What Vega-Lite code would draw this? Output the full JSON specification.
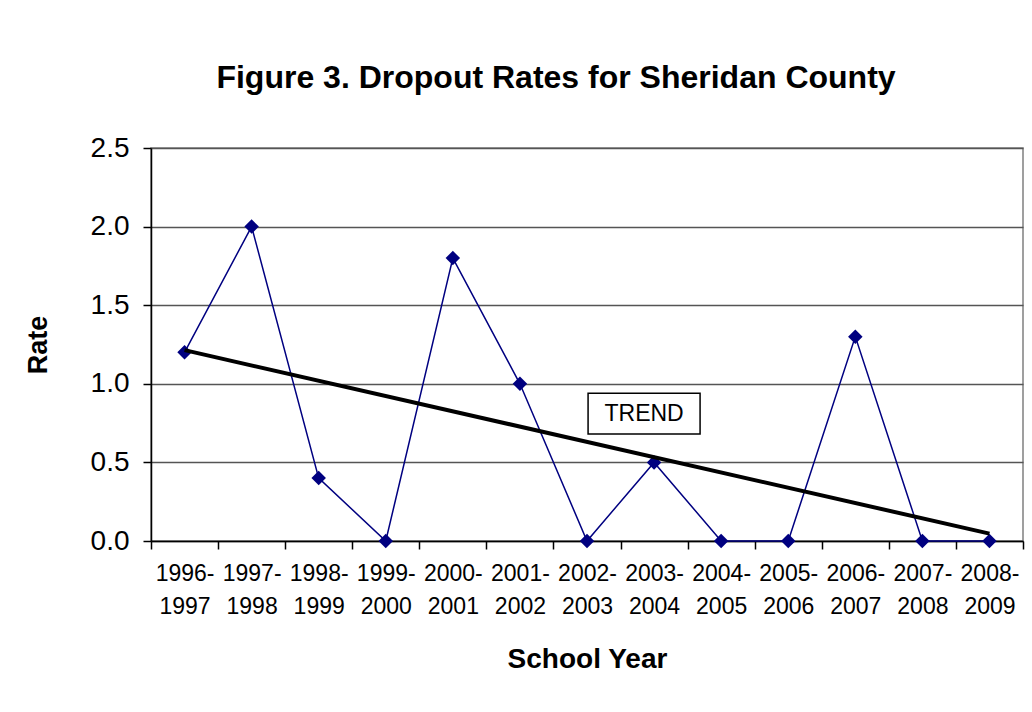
{
  "$schema": "https://vega.github.io/schema/vega-lite/v6.json",
  "autosize": "none",
  "width": 872,
  "height": 393,
  "padding": {"left": 151, "top": 148, "right": 9, "bottom": 171},
  "background": "white",
  "config": {
    "font": "Liberation Sans",
    "view": {"stroke": "#808080", "strokeWidth": 1.5}
  },
  "title": {
    "text": "Figure 3. Dropout Rates for Sheridan County",
    "font": "Liberation Sans",
    "fontSize": 32,
    "fontWeight": "bold",
    "color": "black",
    "anchor": "middle",
    "dx": -31,
    "offset": 39
  },
  "datasets": {
    "rates": [
      {"year": "1996-1997", "rate": 1.2},
      {"year": "1997-1998", "rate": 2.0},
      {"year": "1998-1999", "rate": 0.4},
      {"year": "1999-2000", "rate": 0.0},
      {"year": "2000-2001", "rate": 1.8},
      {"year": "2001-2002", "rate": 1.0},
      {"year": "2002-2003", "rate": 0.0},
      {"year": "2003-2004", "rate": 0.5},
      {"year": "2004-2005", "rate": 0.0},
      {"year": "2005-2006", "rate": 0.0},
      {"year": "2006-2007", "rate": 1.3},
      {"year": "2007-2008", "rate": 0.0},
      {"year": "2008-2009", "rate": 0.0}
    ],
    "trend": [
      {"year": "1996-1997", "rate": 1.214},
      {"year": "2008-2009", "rate": 0.047}
    ],
    "note": [
      {"year": "2003-2004", "lo": 0.68, "hi": 0.94, "mid": 0.81, "label": "TREND"}
    ]
  },
  "layer": [
    {
      "data": {"name": "rates"},
      "mark": {"type": "line", "color": "#000080", "strokeWidth": 1.5},
      "encoding": {
        "x": {
          "field": "year", "type": "ordinal",
          "scale": {"type": "band", "paddingInner": 0, "paddingOuter": 0},
          "axis": {
            "title": "School Year",
            "titleFont": "Liberation Sans",
            "titleFontSize": 28,
            "titleFontWeight": "bold",
            "titleColor": "black",
            "titlePadding": 27,
            "labelAngle": 0,
            "labelExpr": "isString(datum.value) ? [substring(datum.value, 0, 5), substring(datum.value, 5)] : ''",
            "labelFont": "Liberation Sans",
            "labelFontSize": 23,
            "labelColor": "black",
            "labelLineHeight": 33,
            "labelPadding": 13,
            "labelOverlap": false,
            "labelBound": false,
            "labelFlush": false,
            "tickBand": "extent",
            "tickSize": 8,
            "tickColor": "black",
            "tickWidth": 1.5,
            "domainColor": "black",
            "domainWidth": 1.5,
            "grid": false
          }
        },
        "y": {
          "field": "rate", "type": "quantitative",
          "scale": {"domain": [0, 2.5], "nice": false},
          "axis": {
            "title": "Rate",
            "titleFont": "Liberation Sans",
            "titleFontSize": 27,
            "titleFontWeight": "bold",
            "titleColor": "black",
            "titlePadding": 38,
            "values": [0, 0.5, 1, 1.5, 2, 2.5],
            "format": ".1f",
            "labelFont": "Liberation Sans",
            "labelFontSize": 28,
            "labelColor": "black",
            "labelPadding": 14,
            "tickSize": 8,
            "tickColor": "black",
            "tickWidth": 1.5,
            "domainColor": "black",
            "domainWidth": 1.5,
            "grid": true,
            "gridColor": "#555555",
            "gridWidth": 1.5
          }
        }
      }
    },
    {
      "data": {"name": "rates"},
      "mark": {"type": "point", "shape": "diamond", "filled": true, "color": "#000080", "size": 210, "opacity": 1},
      "encoding": {
        "x": {"field": "year", "type": "ordinal"},
        "y": {"field": "rate", "type": "quantitative"}
      }
    },
    {
      "data": {"name": "trend"},
      "mark": {"type": "line", "color": "black", "strokeWidth": 4},
      "encoding": {
        "x": {"field": "year", "type": "ordinal"},
        "y": {"field": "rate", "type": "quantitative"}
      }
    },
    {
      "data": {"name": "note"},
      "mark": {"type": "rect", "width": 112, "xOffset": -10, "fill": "white", "stroke": "black", "strokeWidth": 1.5},
      "encoding": {
        "x": {"field": "year", "type": "ordinal"},
        "y": {"field": "lo", "type": "quantitative"},
        "y2": {"field": "hi"}
      }
    },
    {
      "data": {"name": "note"},
      "mark": {"type": "text", "font": "Liberation Sans", "fontSize": 23, "color": "black", "align": "center", "baseline": "middle", "dx": -10},
      "encoding": {
        "x": {"field": "year", "type": "ordinal"},
        "y": {"field": "mid", "type": "quantitative"},
        "text": {"field": "label"}
      }
    }
  ]
}
